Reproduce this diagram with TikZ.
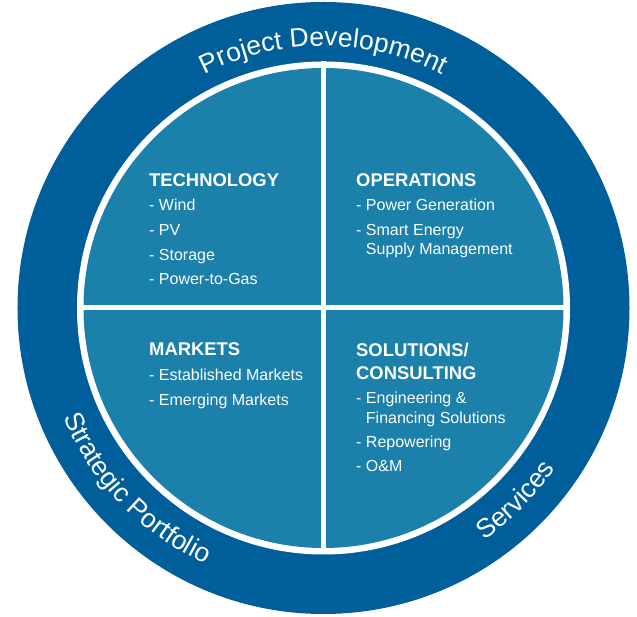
\documentclass[tikz,border=0pt]{standalone}
\usepackage{fontspec}
\setmainfont{Liberation Sans}
\usepackage{xcolor}
\usetikzlibrary{decorations.text}
\definecolor{ringblue}{RGB}{0,95,155}
\definecolor{quadblue}{RGB}{27,128,170}
\newcommand{\ringfont}{\fontsize{26.5}{30}\selectfont}
\tikzset{
	heading/.style={anchor=base west, inner sep=0, text=white, font=\fontsize{18.4}{22}\selectfont\bfseries},
	entry/.style={anchor=base west, inner sep=0, text=white, font=\fontsize{16}{19}\selectfont},
	ringlabel/.style={decorate, decoration={text along path, text align=center, text color=white}}
}

\begin{document}
\begin{tikzpicture}[x=1pt,y=1pt]
	% 637 x 617 frame, origin at the centre of the disc
	\useasboundingbox (-323.5,-309) rectangle (313.5,308);
	
	% Outer ring, white gap and inner disc
	\fill[ringblue] (0,0) circle (306);
	\fill[white] (0,0) circle (246.5);
	\fill[quadblue] (0,0) circle (240);
	
	% Ends of the two white separators
	\coordinate (n) at (0,246.5); %top
	\coordinate (s) at (0,-246.5); %bottom
	\coordinate (w) at (-246.5,0); %left
	\coordinate (e) at (246.5,0); %right
	\draw[white, line width=5pt] (n) -- (s);
	\draw[white, line width=5pt] (w) -- (e);
	
	% Texts on the ring
	\path[ringlabel, decoration={text={|\ringfont|Project Development}}] (180:262) arc[start angle=180, end angle=0, radius=262];
	\path[ringlabel, decoration={text={|\ringfont|Strategic Portfolio}}] (164:282) arc[start angle=164, end angle=284, radius=282];
	\path[ringlabel, decoration={text={|\ringfont|Services}}] (-105:282) arc[start angle=-105, end angle=15, radius=282];
	
	% Top left quarter
	\node[heading] (tech) at (-174.5,121.3) {TECHNOLOGY};
	\node[entry] (tech1) at (-174.5,97.3) {- Wind};
	\node[entry] (tech2) at (-174.5,72) {- PV};
	\node[entry] (tech3) at (-174.5,47) {- Storage};
	\node[entry] (tech4) at (-174.5,23) {- Power-to-Gas};
	
	% Top right quarter
	\node[heading] (ops) at (32.5,121.3) {OPERATIONS};
	\node[entry] (ops1) at (32.5,97.3) {- Power Generation};
	\node[entry] (ops2) at (32.5,72) {- Smart Energy};
	\node[entry] (ops2b) at (32.5,53) {\hphantom{- }Supply Management};
	
	% Bottom left quarter
	\node[heading] (mkt) at (-174.5,-48) {MARKETS};
	\node[entry] (mkt1) at (-174.5,-72.7) {- Established Markets};
	\node[entry] (mkt2) at (-174.5,-98) {- Emerging Markets};
	
	% Bottom right quarter
	\node[heading] (sol) at (32.5,-48.7) {SOLUTIONS/};
	\node[heading] (solb) at (32.5,-71.3) {CONSULTING};
	\node[entry] (sol1) at (32.5,-96) {- Engineering \&};
	\node[entry] (sol1b) at (32.5,-115.3) {\hphantom{- }Financing Solutions};
	\node[entry] (sol2) at (32.5,-139.3) {- Repowering};
	\node[entry] (sol3) at (32.5,-163.7) {- O\&M};
\end{tikzpicture}
\end{document}
